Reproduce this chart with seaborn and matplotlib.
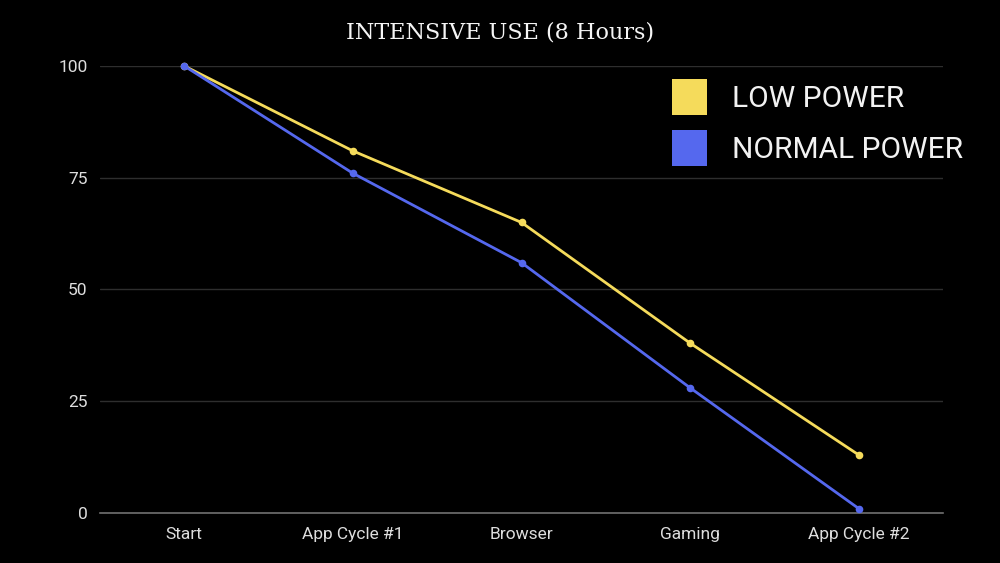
import matplotlib
matplotlib.use("Agg")
import matplotlib.pyplot as plt
from matplotlib.patches import Patch
import seaborn as sns
import pandas as pd

categories = ["Start", "App Cycle #1", "Browser", "Gaming", "App Cycle #2"]
low_power = [100, 81, 65, 38, 13]
normal_power = [100, 76, 56, 28, 1]
series_names = ["LOW POWER", "NORMAL POWER"]
y_ticks = [0, 25, 50, 75, 100]

colors = {"LOW POWER": "#F5DB5B", "NORMAL POWER": "#5568EE"}

df = pd.DataFrame({
    "step": categories * 2,
    "x": list(range(len(categories))) * 2,
    "value": low_power + normal_power,
    "series": [series_names[0]] * len(categories) + [series_names[1]] * len(categories),
})

sns.set_theme(style="dark")
plt.rcParams["font.family"] = ["Roboto", "DejaVu Sans"]

fig = plt.figure(figsize=(10, 5.63), dpi=100, facecolor="black")
ax = fig.add_axes([0.1, 0.0888, 0.843, 0.794])
ax.set_facecolor("black")

sns.lineplot(data=df, x="x", y="value", hue="series", palette=colors,
             hue_order=series_names, marker="o", markersize=5.5,
             markeredgewidth=0, linewidth=2.0, ax=ax, legend=False,
             clip_on=False, zorder=3)

ax.set_xlim(-0.5, len(categories) - 0.5)
ax.set_ylim(0, 100)
ax.set_xticks(range(len(categories)))
ax.set_xticklabels(categories)
ax.set_yticks(y_ticks)
ax.tick_params(axis="both", colors="#DDDDDD", labelsize=12.5, length=0)
ax.tick_params(axis="y", pad=9)
ax.tick_params(axis="x", pad=10)
ax.grid(axis="y", color="#2E2E2E", linewidth=1)
ax.grid(axis="x", visible=False)
for s in ["top", "right", "left"]:
    ax.spines[s].set_visible(False)
ax.spines["bottom"].set_color("#707070")
ax.spines["bottom"].set_linewidth(1.2)
ax.set_xlabel("")
ax.set_ylabel("")

fig.text(0.5, 0.943, "INTENSIVE USE (8 Hours)", ha="center", va="center",
         color="#F5F5F5", fontsize=16, family=["DejaVu Serif"])

handles = [Patch(facecolor=colors[n], edgecolor="none", label=n) for n in series_names]
leg = fig.legend(handles=handles, loc="upper left", bbox_to_anchor=(0.672, 1 - 79 / 563),
                 bbox_transform=fig.transFigure, borderaxespad=0, borderpad=0,
                 frameon=False, fontsize=21.5, handlelength=1.17, handleheight=1.47,
                 handletextpad=0.84, labelspacing=0.5, labelcolor="#F2F2F2")

fig.savefig("out.png", dpi=100, facecolor="black")
